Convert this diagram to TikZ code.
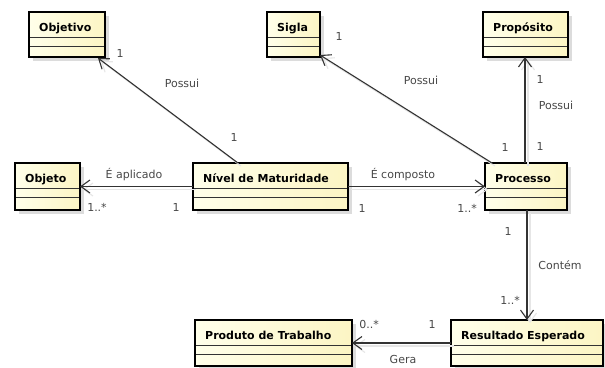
\documentclass[tikz,border=0pt]{standalone}
\usepackage{fontspec}
\setmainfont{DejaVu Sans}
\usetikzlibrary{arrows.meta,calc}
\definecolor{boxL}{HTML}{FFFFEA}
\definecolor{boxR}{HTML}{FCF5C4}
\definecolor{lnc}{HTML}{333333}
\definecolor{lblc}{HTML}{484848}
\definecolor{shd}{HTML}{DCDCDC}
\definecolor{lshd}{HTML}{E6E6E6}
\tikzset{
  classbox/.style={draw=black, line width=1.5pt, inner sep=0pt, outer sep=0pt,
    left color=boxL, right color=boxR},
  compline/.style={draw=black!80, line width=0.9pt},
  classtitle/.style={anchor=base west, inner sep=0pt,
    font=\bfseries\fontsize{11}{13}\selectfont},
  lbl/.style={inner sep=0pt, text=lblc, text height=8pt, text depth=0pt,
    font=\fontsize{11}{13}\selectfont},
  conn/.style={draw=lnc, line width=1.1pt,
    -{Straight Barb[length=9pt,width=13pt,line width=1.1pt]},
    preaction={draw=lshd, line width=1.1pt,
      transform canvas={shift={(3pt,-3pt)}}}}
}
\newcommand\umlclass[6]{%
  \fill[shd] (#2+4,#3+4) rectangle (#4+4,#5+4);
  \node[classbox, minimum width={(#4-#2)*1pt}, minimum height={(#5-#3)*1pt}]
    (#1) at ({(#2+#4)/2},{(#3+#5)/2}) {};
  \draw[compline] ($(#1.north west)+(0.75,25)$) -- ($(#1.north east)+(-0.75,25)$);
  \draw[compline] ($(#1.north west)+(0.75,34)$) -- ($(#1.north east)+(-0.75,34)$);
  \node[classtitle] (#1-t) at ($(#1.north west)+(10,19)$) {#6};
}
\begin{document}
\begin{tikzpicture}[x=1pt,y=-1pt]
\fill[white] (0,0) rectangle (605,367);
\useasboundingbox (0,0) rectangle (605,367);

\umlclass{objetivo}{29}{12}{105}{57}{Objetivo}
\umlclass{sigla}{267}{12}{320}{57}{Sigla}
\umlclass{proposito}{483}{12}{568}{57}{Propósito}
\umlclass{objeto}{15}{163}{80}{210}{Objeto}
\umlclass{nivel}{193}{163}{348}{210}{Nível de Maturidade}
\umlclass{processo}{485}{163}{567}{210}{Processo}
\umlclass{produto}{195}{320}{352}{366}{Produto de Trabalho}
\umlclass{resultado}{451}{320}{603}{366}{Resultado Esperado}

\draw[conn] ($(nivel.north west)+(45,0)$) -- ($(objetivo.south west)+(69,1)$);
\draw[conn] (nivel.west) -- (objeto.east);
\draw[conn] (nivel.east) -- (processo.west);
\draw[conn] ($(processo.north west)+(7,0)$) -- ($(sigla.south east)+(0,-2)$);
\draw[conn] ($(processo.north)+(-1,0)$) -- ($(processo.north |- proposito.south)+(-1,0)$);
\draw[conn] ($(processo.south)+(1,0)$) -- ($(processo.south |- resultado.north)+(1,0)$);
\draw[conn] (resultado.west) -- (produto.east);

% labels
\node[lbl] (a1) at (120,53) {1};
\node[lbl] (a2) at (182,83) {Possui};
\node[lbl] (a3) at (234,137) {1};
\node[lbl] (b1) at (134,174) {É aplicado};
\node[lbl] (b2) at (97,207) {1..*};
\node[lbl] (b3) at (176,207) {1};
\node[lbl] (c1) at (403,174) {É composto};
\node[lbl] (c2) at (362,208) {1};
\node[lbl] (c3) at (467,208) {1..*};
\node[lbl] (d1) at (339,36) {1};
\node[lbl] (d2) at (421,80) {Possui};
\node[lbl] (d3) at (505,147) {1};
\node[lbl] (e1) at (540,79) {1};
\node[lbl] (e2) at (556,105) {Possui};
\node[lbl] (e3) at (540,146) {1};
\node[lbl] (f1) at (508,231) {1};
\node[lbl] (f2) at (560,265) {Contém};
\node[lbl] (f3) at (510,300) {1..*};
\node[lbl] (g1) at (369,324) {0..*};
\node[lbl] (g2) at (432,324) {1};
\node[lbl] (g3) at (403,359) {Gera};
\end{tikzpicture}
\end{document}
